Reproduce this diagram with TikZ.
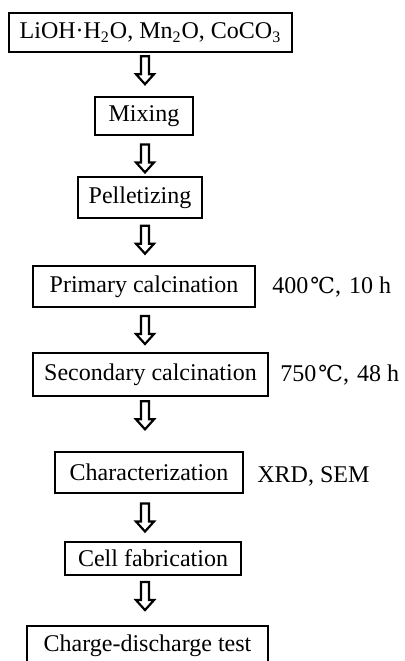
\documentclass[tikz,border=0pt]{standalone}
\usepackage{fontspec}
\setmainfont{Liberation Serif}
\newfontfamily\degfont{DejaVu Serif}
\usetikzlibrary{calc}
\newcommand{\degC}{{\degfont\fontsize{11}{13}\selectfont ℃}}
% hollow block arrow between two boxes
\newcommand{\flowarrow}[3]{%
	\coordinate (m) at ($(#1.south)!#3!(#2.north)$);
	\draw[arrowline] (col |- m) ++(-4,-14) -- ++(0,18) -- ++(-5,0) -- ++(9,10)
		-- ++(9,-10) -- ++(-5,0) -- ++(0,-18) -- cycle;
}
\tikzset{
	stepbox/.style={draw, line width=0.9, inner sep=0pt, font=\fontsize{12}{14}\selectfont},
	arrowline/.style={line width=1.1, line join=miter},
	note/.style={anchor=west, inner sep=0pt, font=\fontsize{12}{14}\selectfont}
}
\begin{document}
\begin{tikzpicture}[x=0.5pt, y=-0.5pt]
	\useasboundingbox (0,0) rectangle (405,661);
	\coordinate (col) at (145,0);
	%boxes
	\node[stepbox, minimum width=141.5pt, minimum height=19.5pt] (src) at (150.5,32.5)
		{LiOH·H\textsubscript{2}O, Mn\textsubscript{2}O, CoCO\textsubscript{3}};
	\node[stepbox, minimum width=49pt, minimum height=19pt] (mix) at (144,116) {Mixing};
	\node[stepbox, minimum width=62pt, minimum height=20.5pt] (pel) at (140,197.5) {Pelletizing};
	\node[stepbox, minimum width=111pt, minimum height=20.5pt] (pri) at (144,286.5) {Primary calcination};
	\node[stepbox, minimum width=117.5pt, minimum height=21.5pt] (sec) at (150.5,374.5) {Secondary calcination};
	\node[stepbox, minimum width=94pt, minimum height=20.5pt] (cha) at (149,472.5) {Characterization};
	\node[stepbox, minimum width=88pt, minimum height=16.5pt] (cel) at (153,558.5) {Cell fabrication};
	\node[stepbox, minimum width=120.5pt, minimum height=20pt] (tst) at (147.5,646) {Charge-discharge test};
	%conditions
	\node[note] (pricond) at (272,287) {400\hspace{1pt}\degC,\hspace{4pt}10 h};
	\node[note] (seccond) at (280,375) {750\hspace{1pt}\degC,\hspace{4pt}48 h};
	\node[note] (chacond) at (257,476) {XRD, SEM};
	%arrows
	\flowarrow{src}{mix}{0.4}
	\flowarrow{mix}{pel}{0.56}
	\flowarrow{pel}{pri}{0.45}
	\flowarrow{pri}{sec}{0.5}
	\flowarrow{sec}{cha}{0.34}
	\flowarrow{cha}{cel}{0.5}
	\flowarrow{cel}{tst}{0.41}
\end{tikzpicture}
\end{document}
